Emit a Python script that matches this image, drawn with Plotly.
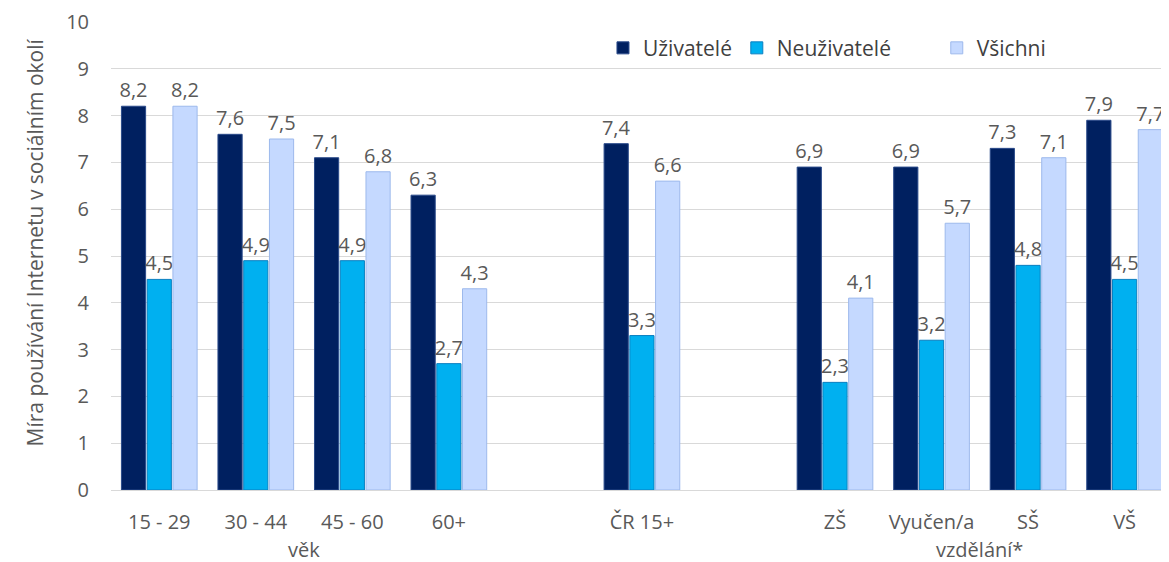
import plotly.graph_objects as go

categories = ["15 - 29", "30 - 44", "45 - 60", "60+", " ", "ČR 15+", "  ", "ZŠ", "Vyučen/a", "SŠ", "VŠ"]
uzivatele = [8.2, 7.6, 7.1, 6.3, None, 7.4, None, 6.9, 6.9, 7.3, 7.9]
neuzivatele = [4.5, 4.9, 4.9, 2.7, None, 3.3, None, 2.3, 3.2, 4.8, 4.5]
vsichni = [8.2, 7.5, 6.8, 4.3, None, 6.6, None, 4.1, 5.7, 7.1, 7.7]
series_names = ["Uživatelé", "Neuživatelé", "Všichni"]
group_labels = [("věk", 1.5), ("vzdělání*", 8.5)]
y_title = "Míra používání Internetu v sociálním okolí"

FONT = "Open Sans"
GRAY = "#595959"
FS = 20

fills = ["#002060", "#00B0F0", "#C5D9FF"]
borders = ["#2A4A8A", "#0A7FC0", "#9DB9EC"]
legend_ids = ["legend", "legend2", "legend3"]
legend_x = [0.465, 0.5915, 0.7805]

fig = go.Figure()
for name, vals, fc, bc, lid in zip(series_names, [uzivatele, neuzivatele, vsichni], fills, borders, legend_ids):
    fig.add_trace(go.Bar(
        x=categories, y=vals, name=name, legend=lid,
        marker=dict(color=fc, line=dict(color=bc, width=1)),
        text=[None if v is None else f"{v:.1f}".replace(".", ",") for v in vals],
        textposition="outside", constraintext="none",
        textfont=dict(family=FONT, size=FS, color=GRAY),
        cliponaxis=False,
    ))

for txt, xpos in group_labels:
    fig.add_annotation(x=xpos, xref="x", y=-0.128, yref="paper", text=txt,
                       showarrow=False, yanchor="middle",
                       font=dict(family=FONT, size=FS, color=GRAY))

fig.add_annotation(x=-0.0723, xref="paper", y=0.528, yref="paper", text=y_title,
                   textangle=-90, showarrow=False, xanchor="center", yanchor="middle",
                   font=dict(family=FONT, size=21, color=GRAY))

legend_common = dict(orientation="h", xanchor="left", y=0.944, yanchor="middle",
                     font=dict(family=FONT, size=21, color="#404040"),
                     itemwidth=30, bgcolor="rgba(0,0,0,0)")

fig.update_layout(
    width=1161, height=554,
    margin=dict(l=103, r=0, t=14, b=72),
    paper_bgcolor="white", plot_bgcolor="white",
    barmode="group", bargap=0.2, bargroupgap=0.06,
    font=dict(family=FONT, size=FS, color=GRAY),
    showlegend=True,
    legend=dict(x=legend_x[0], **legend_common),
    legend2=dict(x=legend_x[1], **legend_common),
    legend3=dict(x=legend_x[2], **legend_common),
)
fig.update_xaxes(type="category", range=[-0.5, 10.46], showgrid=False,
                 showline=True, linecolor="#D9D9D9", ticks="",
                 tickfont=dict(family=FONT, size=FS, color=GRAY), ticklabelstandoff=14)
fig.update_yaxes(range=[0, 10], dtick=1, showgrid=True, gridcolor="#D9D9D9",
                 zeroline=False, showline=False, ticks="",
                 tickfont=dict(family=FONT, size=FS, color=GRAY), ticklabelstandoff=21)

fig.write_html("out.html")
